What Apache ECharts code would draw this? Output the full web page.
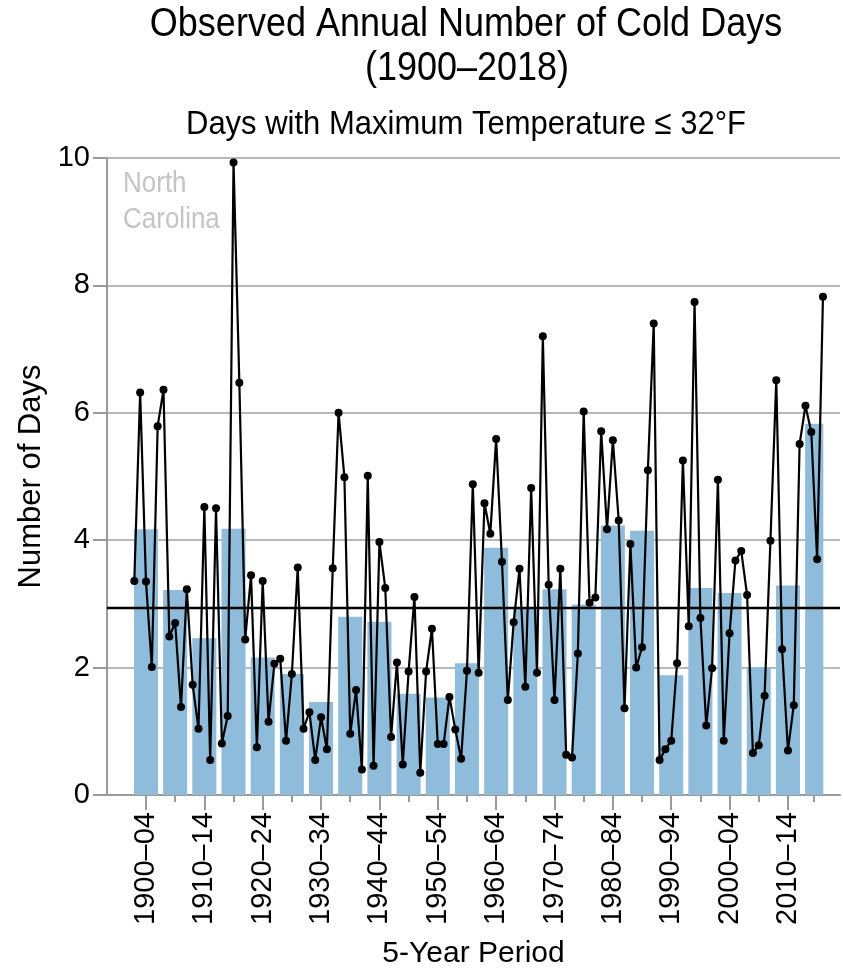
<!DOCTYPE html>
<html>
<head>
<meta charset="utf-8">
<script src="https://cdn.jsdelivr.net/npm/echarts@6/dist/echarts.min.js"></script>
<style>
html,body{margin:0;padding:0;background:#fff;}
#chart{width:843px;height:975px;}
</style>
</head>
<body>
<div id="chart"></div>
<script>
// ---- Data ----
const firstYear = 1900;
const annualValues = [
  3.36, 6.32, 3.35, 2.01, 5.79,
  6.36, 2.49, 2.70, 1.38, 3.23,
  1.73, 1.04, 4.52, 0.55, 4.50,
  0.81, 1.24, 9.93, 6.47, 2.44,
  3.45, 0.75, 3.36, 1.15, 2.06,
  2.14, 0.85, 1.90, 3.57, 1.04,
  1.30, 0.55, 1.22, 0.72, 3.56,
  6.00, 4.99, 0.96, 1.65, 0.40,
  5.01, 0.46, 3.97, 3.25, 0.91,
  2.08, 0.48, 1.94, 3.11, 0.35,
  1.94, 2.61, 0.80, 0.80, 1.54,
  1.03, 0.57, 1.95, 4.88, 1.92,
  4.58, 4.10, 5.59, 3.66, 1.49,
  2.71, 3.55, 1.70, 4.82, 1.92,
  7.20, 3.30, 1.49, 3.55, 0.63,
  0.59, 2.22, 6.02, 3.02, 3.10,
  5.71, 4.17, 5.57, 4.31, 1.36,
  3.94, 2.00, 2.32, 5.10, 7.40,
  0.55, 0.72, 0.85, 2.07, 5.25,
  2.65, 7.74, 2.78, 1.09, 1.99,
  4.95, 0.85, 2.54, 3.68, 3.83,
  3.14, 0.66, 0.78, 1.56, 3.99,
  6.51, 2.29, 0.70, 1.41, 5.51,
  6.11, 5.70, 3.70, 7.82
];
const periodLabels = ["1900–04","1905–09","1910–14","1915–19","1920–24","1925–29","1930–34","1935–39",
  "1940–44","1945–49","1950–54","1955–59","1960–64","1965–69","1970–74","1975–79",
  "1980–84","1985–89","1990–94","1995–99","2000–04","2005–09","2010–14","2015–18"];
const periodStart = [1900,1905,1910,1915,1920,1925,1930,1935,1940,1945,1950,1955,1960,1965,1970,1975,1980,1985,1990,1995,2000,2005,2010,2015];
const periodEnd   = [1904,1909,1914,1919,1924,1929,1934,1939,1944,1949,1954,1959,1964,1969,1974,1979,1984,1989,1994,1999,2004,2009,2014,2018];
const periodMeans = [4.17,3.22,2.46,4.18,2.16,1.90,1.46,2.80,2.72,1.59,1.53,2.07,3.88,2.94,3.23,2.99,4.23,4.15,1.88,3.25,3.17,2.01,3.29,5.83];
const longTermAverage = 2.94;
const yTicks = [0,2,4,6,8,10];

// ---- Build ----
const FONT = 'Liberation Sans, Arial, Helvetica, sans-serif';
const centers = periodStart.map((s,i)=>(s+periodEnd[i])/2);
const labeledCenters = centers.filter((c,i)=>i%2===0);
const unlabeledCenters = centers.filter((c,i)=>i%2===1);
const labelFor = v => { const i = centers.findIndex(c=>Math.abs(c-v)<1e-6); return i>=0 ? periodLabels[i] : ''; };
const barData = periodStart.map((s,i)=>[s, periodEnd[i], periodMeans[i]]);
const lineData = annualValues.map((v,i)=>[firstYear+i, v]);

const X_MIN = 1895.32, X_MAX = 2020.92;
const axisGray = '#9a9a9a';

const chart = echarts.init(document.getElementById('chart'), null, {renderer:'canvas'});
chart.setOption({
  animation:false,
  backgroundColor:'#fff',
  grid:{left:107, right:3, top:158, bottom:180, containLabel:false},
  graphic:[
    {type:'text', x:466, y:25, scaleY:1.12, style:{text:'Observed Annual Number of Cold Days', fill:'#000', font:'36px '+FONT, align:'center', verticalAlign:'middle'}},
    {type:'text', x:467, y:69, scaleY:1.12, style:{text:'(1900–2018)', fill:'#000', font:'36px '+FONT, align:'center', verticalAlign:'middle'}},
    {type:'text', x:466, y:125, scaleY:1.1, style:{text:'Days with Maximum Temperature ≤ 32°F', fill:'#000', font:'31px '+FONT, align:'center', verticalAlign:'middle'}},
    {type:'text', x:123, y:184, z:10, scaleY:1.12, style:{text:'North', fill:'#c4c4c4', font:'26px '+FONT, align:'left', verticalAlign:'middle'}},
    {type:'text', x:123, y:220, z:10, scaleY:1.12, style:{text:'Carolina', fill:'#c4c4c4', font:'26px '+FONT, align:'left', verticalAlign:'middle'}}
  ],
  xAxis:[
    {
      type:'value', min:X_MIN, max:X_MAX, position:'bottom',
      name:'5-Year Period', nameLocation:'middle', nameGap:144,
      nameTextStyle:{fontSize:30, color:'#000', fontFamily:FONT},
      axisLine:{show:true, onZero:false, lineStyle:{color:axisGray, width:2}},
      axisTick:{show:true, length:15, lineStyle:{color:axisGray, width:2}, customValues:labeledCenters},
      axisLabel:{show:true, rotate:90, margin:17, fontSize:29, color:'#000', fontFamily:FONT,
        customValues:labeledCenters, formatter:v=>labelFor(v)},
      splitLine:{show:false}
    },
    {
      type:'value', min:X_MIN, max:X_MAX, position:'bottom',
      axisLine:{show:false, onZero:false},
      axisTick:{show:true, length:7, lineStyle:{color:axisGray, width:2}, customValues:unlabeledCenters},
      axisLabel:{show:false},
      splitLine:{show:false}
    }
  ],
  yAxis:{
    type:'value', min:0, max:10, interval:2,
    name:'Number of Days', nameLocation:'middle', nameGap:55,
    nameTextStyle:{fontSize:31, color:'#000', fontFamily:FONT},
    axisLine:{show:true, lineStyle:{color:axisGray, width:2}},
    axisTick:{show:true, length:14, lineStyle:{color:axisGray, width:2}},
    axisLabel:{show:true, margin:17, fontSize:29, color:'#000', fontFamily:FONT,
      formatter:v=>yTicks.includes(v)?String(v):''},
    splitLine:{show:true, lineStyle:{color:'#b8b8b8', width:2}}
  },
  series:[
    {
      type:'custom', name:'5-year mean', xAxisIndex:0, z:1,
      encode:{x:[0,1], y:2},
      data:barData,
      renderItem:(params, api)=>{
        const s = api.value(0), e = api.value(1), v = api.value(2);
        const p0 = api.coord([s-0.06, v]);
        const p1 = api.coord([e+0.06, 0]);
        return {type:'rect', shape:{x:p0[0], y:p0[1], width:p1[0]-p0[0], height:p1[1]-p0[1]}, style:{fill:'#8FBCDB'}};
      }
    },
    {
      type:'line', name:'Annual', xAxisIndex:0, z:5,
      data:lineData,
      symbol:'circle', symbolSize:8,
      itemStyle:{color:'#000'},
      lineStyle:{color:'#000', width:2.2},
      markLine:{
        silent:true, symbol:['none','none'], label:{show:false},
        lineStyle:{color:'#000', width:2.4, type:'solid'},
        data:[{yAxis:longTermAverage}]
      }
    }
  ]
});
</script>
</body>
</html>
